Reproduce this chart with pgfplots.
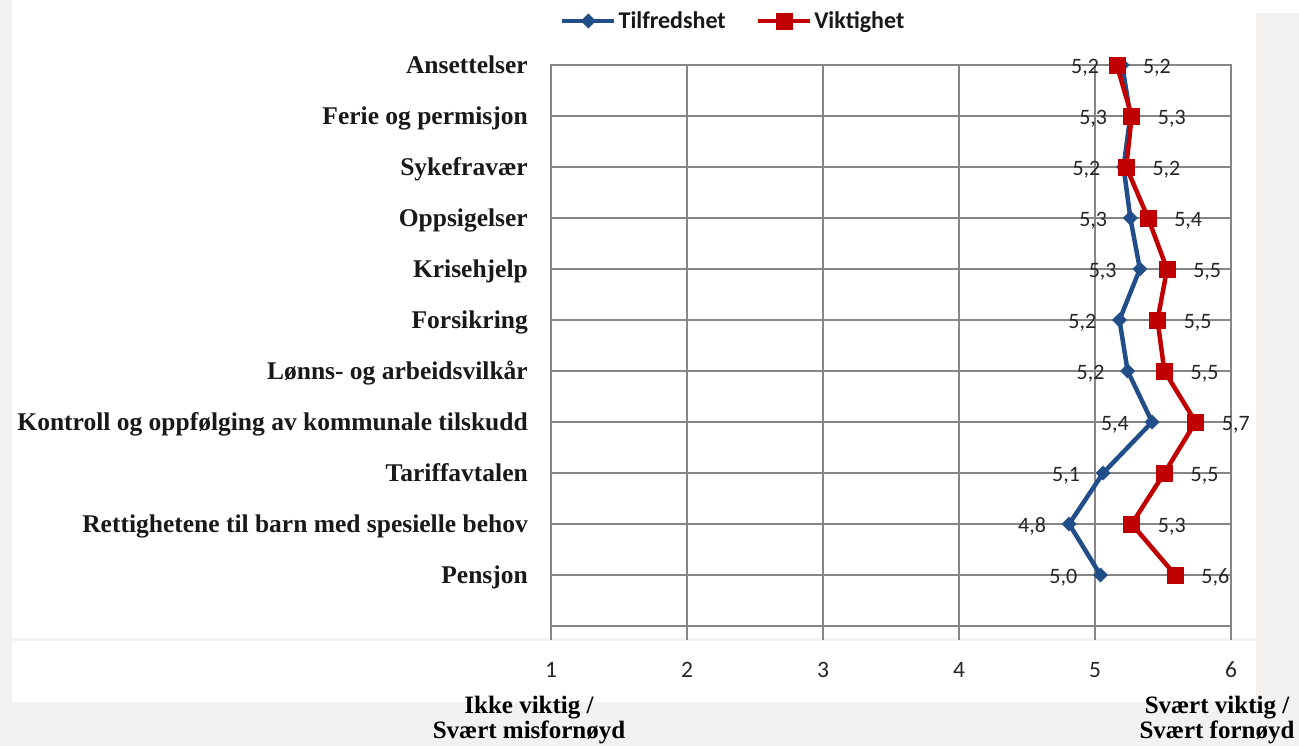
\documentclass[border=0pt]{standalone}
\usepackage{pgfplots}
\pgfplotsset{compat=1.18}
\usepackage{fontspec}
\setmainfont{Carlito}
\newfontfamily\cambria{Liberation Serif}
\definecolor{bgray}{RGB}{243,242,241}
\definecolor{gridc}{RGB}{134,134,134}
\definecolor{tblue}{RGB}{33,78,137}
\definecolor{vred}{RGB}{192,0,0}
\definecolor{band}{RGB}{242,242,242}
\pgfplotstableread{
x y
5.20 11
5.26 10
5.21 9
5.26 8
5.33 7
5.18 6
5.24 5
5.42 4
5.06 3
4.81 2
5.04 1
}\tilfredshet
\pgfplotstableread{
x y
5.16 11
5.27 10
5.23 9
5.39 8
5.53 7
5.46 6
5.51 5
5.74 4
5.51 3
5.27 2
5.59 1
}\viktighet
\begin{document}
\begin{tikzpicture}
\useasboundingbox (0,0) rectangle (1299pt,746pt);
\fill[bgray] (0,0) rectangle (1299pt,746pt);
\fill[white] (12pt,44pt) rectangle (1256pt,746pt);
\fill[white] (1256pt,733pt) rectangle (1299pt,746pt);
\draw[band, line width=3pt] (12pt,106pt) -- (1256pt,106pt);
\begin{axis}[
  at={(551pt,120pt)}, anchor=south west,
  scale only axis, width=680pt, height=561pt,
  xmin=1, xmax=6, ymin=0, ymax=11,
  xtick={1,2,3,4,5,6},
  ytick={1,2,3,4,5,6,7,8,9,10,11},
  yticklabels={Pensjon, Rettighetene til barn med spesielle behov, Tariffavtalen, Kontroll og oppfølging av kommunale tilskudd, Lønns- og arbeidsvilkår, Forsikring, Krisehjelp, Oppsigelser, Sykefravær, Ferie og permisjon, Ansettelser},
  /pgf/number format/assume math mode=true,
  grid=major,
  major grid style={gridc, line width=1.5pt},
  axis line style={gridc, line width=1.5pt},
  xtick pos=lower, tick align=outside, major tick length=14pt,
  x tick style={gridc, line width=1.5pt},
  y tick style={draw=none},
  xticklabel style={anchor=base, inner sep=0pt, yshift=-38pt, font=\fontsize{23.5}{27}\selectfont, text=black!85},
  yticklabel style={anchor=base east, inner sep=0pt, xshift=-9pt, yshift=-8.5pt, font=\cambria\bfseries\fontsize{25.5}{30}\selectfont, text=black!90},
  point meta=x,
  nodes near coords={\pgfmathprintnumber[fixed,precision=1,zerofill,use comma]{\pgfplotspointmeta}},
  legend style={at={(0.268,1.0784)}, anchor=center, draw=none, fill=none, legend columns=2,
    font=\bfseries\fontsize{24}{28}\selectfont, text=black!90,
    /tikz/every even column/.append style={column sep=28pt},
    nodes={inner sep=2pt}},
  legend image code/.code={\draw[mark repeat=2,mark phase=2,#1] plot coordinates {(0pt,0pt) (26pt,0pt) (52pt,0pt)};},
]
\addplot[tblue, line width=4.5pt, mark=square*, mark size=5pt, mark options={rotate=45, line width=0.5pt},
  nodes near coords align={left},
  every node near coord/.append style={anchor=east, xshift=-23pt, yshift=-2.5pt, inner sep=0pt, font=\fontsize{22}{26}\selectfont, text=black!85}]
  table[x=x,y=y] {\tilfredshet};
\addlegendentry{Tilfredshet}
\addplot[vred, line width=4.5pt, mark=square*, mark size=8pt, mark options={line width=0.5pt},
  nodes near coords align={right},
  every node near coord/.append style={anchor=west, xshift=26pt, yshift=-2.5pt, inner sep=0pt, font=\fontsize{22}{26}\selectfont, text=black!85}]
  table[x=x,y=y] {\viktighet};
\addlegendentry{Viktighet}
\end{axis}
\node[anchor=base, inner sep=0pt, font=\cambria\bfseries\fontsize{25}{26}\selectfont] at (529pt,32pt) {Ikke viktig /};
\node[anchor=base, inner sep=0pt, font=\cambria\bfseries\fontsize{25}{26}\selectfont] at (529pt,7pt) {Svært misfornøyd};
\node[anchor=base, inner sep=0pt, font=\cambria\bfseries\fontsize{25}{26}\selectfont] at (1217pt,32pt) {Svært viktig /};
\node[anchor=base, inner sep=0pt, font=\cambria\bfseries\fontsize{25}{26}\selectfont] at (1217pt,7pt) {Svært fornøyd};
\end{tikzpicture}
\end{document}
